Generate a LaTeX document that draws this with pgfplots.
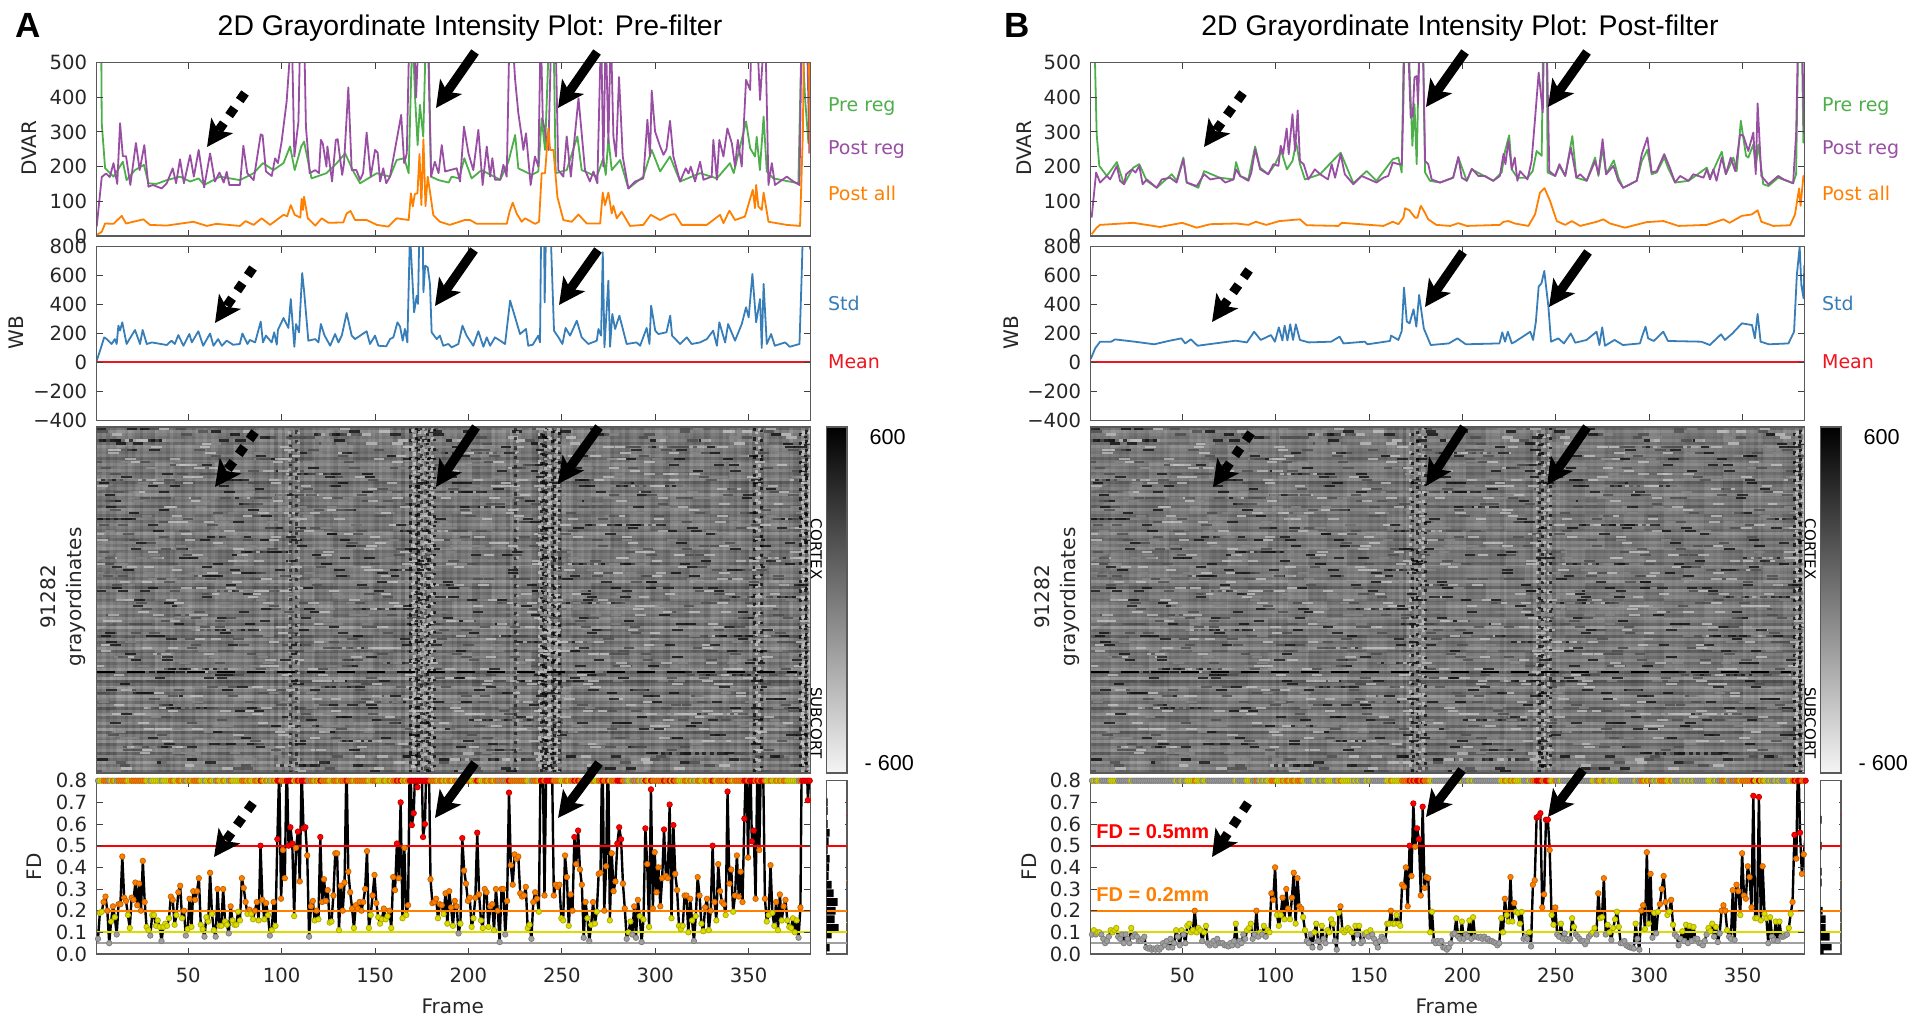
\documentclass[border=0pt]{standalone}
\usepackage{fontspec}
\usepackage{pgfplots}
\usepackage{pgfplotstable}
\pgfplotsset{compat=1.18}
\usetikzlibrary{arrows.meta}
\setmainfont{DejaVu Sans}
\newfontfamily\helv{Liberation Sans}

\definecolor{cgreen}{HTML}{4DAF4A}
\definecolor{cpurple}{HTML}{984EA3}
\definecolor{corange}{HTML}{FF7F00}
\definecolor{cblue}{HTML}{377EB8}
\definecolor{cred}{HTML}{F0141E}
\definecolor{fdred}{HTML}{FF0000}
\definecolor{fdyellow}{HTML}{DCDC00}
\definecolor{fdgray}{HTML}{A0A0A0}
\definecolor{axgray}{HTML}{5A5A5A}

%% ---- DVAR, panel A
\pgfplotstableread[row sep=\\]{f v\\
3 900\\3.7 325\\5.5 195\\10 171\\15 214\\17 161\\21.5 190\\26.3 205\\28.7 152\\33 150\\38.5 161\\45.6 171\\51 157\\55.6 166\\58.5 147\\67 171\\77.7 161\\85 181\\90 210\\95.6 190\\101 210\\104.5 258\\107 190\\110.5 258\\112 272\\116 166\\124 181\\129.5 210\\134 238\\138.4 186\\142 152\\151 181\\158 171\\161.6 219\\165.6 224\\168 181\\170 600\\171.4 402\\172.8 262\\174 378\\175.8 286\\177.3 600\\178.5 600\\180 171\\184 161\\189.4 154\\191 171\\195 166\\197.8 224\\201.7 166\\207 190\\217 162\\221.4 214\\225 291\\226.7 195\\233.9 176\\237.4 186\\239.2 339\\241 248\\243.3 600\\245.5 600\\246.7 181\\252.6 190\\258.3 287\\260.6 190\\268.7 171\\272.2 224\\273.5 176\\274.9 282\\276.7 190\\281.2 219\\285.6 137\\293.6 171\\298.1 248\\302.6 186\\307.9 229\\313.3 157\\324 181\\333 166\\340 210\\342 181\\348.6 330\\350.8 253\\353.4 229\\354.3 286\\356 190\\358 344\\359.7 186\\363.2 166\\376.6 152\\378.4 600\\380.2 397\\382 267\\383 392\\
}\preA
\pgfplotstableread[row sep=\\]{f v\\
1 27\\3.7 170\\6 180\\8 170\\10 210\\12 150\\13.5 325\\15 230\\16.7 230\\19 147\\22 268\\24 190\\26.5 262\\28.7 142\\31 147\\35.8 137\\38.5 152\\41.7 195\\43.5 152\\45.6 221\\47.7 152\\51 233\\53 171\\55.6 248\\58.5 140\\61.7 238\\64.3 157\\66.7 183\\69 154\\70.6 185\\72 147\\77.7 147\\79.5 260\\81.6 181\\85 161\\88.8 293\\89.8 290\\91.6 186\\94.7 173\\96.5 224\\98 210\\100 272\\102.7 389\\105.4 600\\106.8 229\\109 330\\110 600\\112 600\\113 315\\115 181\\118 190\\120 181\\121 277\\122 267\\124 200\\124.5 258\\127 157\\129 277\\130 279\\132.4 176\\133.4 210\\135.7 428\\137.5 190\\140 190\\142 162\\143.6 181\\145.5 298\\147.7 171\\150 248\\151.4 240\\152.7 157\\154.4 195\\156 152\\158 171\\161.6 277\\164 349\\165.6 210\\167 238\\168.4 600\\171 560\\172 400\\173 540\\175 650\\178 650\\180 171\\182 214\\184 181\\185.7 262\\187.5 186\\193.7 195\\195.5 157\\197.6 315\\200 238\\202.6 190\\205.3 306\\207.6 147\\209.8 258\\211.6 171\\212.8 224\\214.2 162\\217 162\\218.7 205\\220.5 171\\222 600\\223.2 600\\225 450\\226.7 354\\228.5 287\\229.4 248\\230.8 296\\233.3 147\\235.6 229\\237.4 200\\238.7 600\\239.8 335\\242.8 248\\244.6 640\\246.4 640\\248.1 190\\250.8 171\\252.6 287\\254.8 171\\258.9 397\\262.4 190\\265 157\\266.9 186\\269 152\\271 600\\272.2 200\\273.5 600\\274.9 267\\276.2 600\\277.6 287\\279 229\\280.6 458\\282.6 229\\285.6 137\\289.2 157\\293.6 166\\295.8 335\\297.2 229\\298.1 419\\299.9 301\\302.6 258\\304.4 234\\306 250\\307.9 332\\309.7 229\\313.3 157\\316.3 195\\317.8 180\\319 200\\321.3 157\\324 214\\325.8 162\\330.2 171\\331.1 277\\333 162\\334.3 277\\336.5 229\\338.6 310\\341 267\\342.7 200\\344.2 277\\346.3 200\\348.6 450\\350.8 421\\351.6 600\\354.3 600\\356.1 392\\358.8 620\\360.6 147\\362.4 210\\364.1 147\\370.4 171\\374 157\\377.2 147\\378.4 620\\381 650\\382.5 238\\
}\postA
\pgfplotstableread[row sep=\\]{f v\\
1 3\\3.7 12\\5.5 36\\10 35\\14.4 58\\16.7 36\\20.6 41\\26 48\\29.5 32\\38.5 30\\52.7 41\\60 29\\65 35\\77.7 29\\80.7 43\\85 32\\89.3 51\\93.8 32\\101 61\\103 57\\104.9 89\\107 61\\110 53\\110.7 107\\111.4 75\\112 113\\114 51\\118 30\\121.5 51\\125 38\\133 39\\134.8 65\\136.9 72\\139.3 46\\145.5 46\\151 32\\157 27\\161.6 51\\168 46\\169.2 123\\170.2 85\\171.3 121\\172.7 123\\173.8 236\\174.8 89\\175.9 279\\177 86\\178.2 171\\179.4 128\\181.2 60\\184.7 41\\190 32\\198 46\\200.9 46\\204.4 35\\220.5 35\\222 70\\223.7 96\\225.8 65\\228.5 41\\230.3 51\\235.7 35\\237.8 41\\239.2 181\\241 181\\242.8 311\\243.7 248\\245.5 248\\247.6 113\\250.8 46\\255.3 41\\258.9 62\\263.3 36\\270.5 36\\271.9 125\\273.1 89\\274.9 125\\276.7 65\\277.6 87\\279.4 51\\282 70\\286.5 29\\293.6 32\\297.6 61\\302.6 46\\308 61\\310.6 63\\314.2 32\\327.6 32\\334.7 61\\336.5 37\\339.7 73\\342.7 46\\348 56\\352.2 133\\353.4 80\\354 147\\355.2 85\\357 75\\358 125\\360.6 41\\370.4 32\\377.5 29\\379 296\\379.7 600\\381 600\\382 600\\383 238\\
}\allA
%% ---- DVAR, panel B
\pgfplotstableread[row sep=\\]{f v\\
3 900\\3.3 500\\4.2 293\\5.6 202\\9.6 173\\15 213\\18.8 149\\23.8 197\\27 207\\31 159\\36.3 139\\44.4 178\\47 159\\50.6 226\\52.4 154\\58.6 139\\61.7 187\\70 168\\77.4 163\\78.8 213\\81 173\\85.4 163\\89 258\\91.7 197\\96 178\\99.7 207\\103 245\\106 192\\109 216\\111 269\\113 207\\115.7 163\\123.8 178\\129.7 212\\134.8 240\\141.6 152\\148.7 187\\154 159\\162.7 221\\165.7 226\\167.5 183\\168.7 600\\171 580\\173.2 260\\174.3 380\\175.5 207\\177 600\\178.7 600\\180 183\\182.6 159\\188 154\\195 168\\197.8 226\\202.3 159\\205 192\\216.5 159\\221 183\\222.8 245\\225 290\\226.4 192\\229.4 168\\234.8 168\\237.6 187\\239.7 245\\242.4 231\\243.3 600\\245 600\\245.6 183\\249.6 173\\251.9 202\\255 173\\258.8 288\\261 168\\266.5 159\\271 226\\272.8 173\\275 255\\276.9 178\\281 218\\283.5 168\\286 139\\293.3 159\\296 216\\299 248\\301.3 178\\304 183\\308 226\\310 197\\313.8 154\\321 159\\330.8 197\\332.5 168\\338.8 243\\341 178\\345 226\\346.8 187\\349 332\\351.8 231\\353 226\\355.7 264\\357 197\\358.4 264\\361 149\\363.8 144\\369 168\\377 152\\378.6 178\\379.8 600\\381.6 600\\382.5 269\\383 389\\
}\preB
\pgfplotstableread[row sep=\\]{f v\\
1.5 53\\3.9 183\\6 154\\9.6 173\\11.4 163\\15 202\\16.7 159\\18.8 149\\20 178\\23 192\\25 183\\27 202\\28.8 149\\31 163\\36.3 139\\39 163\\43.5 168\\47 154\\50.6 221\\52.4 154\\57.8 144\\61.7 178\\65 163\\70.2 168\\73 154\\77.4 163\\78.8 192\\81 173\\85.4 159\\87 183\\89 250\\91.7 192\\96 178\\98.8 207\\101.5 202\\102.7 260\\104 236\\105.9 310\\107 236\\109 351\\110.4 245\\111.8 362\\113 216\\115 207\\117.5 163\\121 192\\123.8 178\\128 163\\130 207\\131.8 168\\134.8 236\\137 178\\141.6 149\\146 173\\154 154\\157.7 168\\160.3 173\\162.7 212\\165.7 207\\167.5 207\\168.4 389\\169 600\\171 540\\172.3 341\\173.4 346\\174.3 457\\175.5 461\\176.2 380\\177.3 600\\178.7 600\\180 216\\181.7 207\\183.5 163\\188 154\\195 168\\197.8 228\\199.6 168\\202.3 159\\205 194\\208.5 173\\212 173\\216.5 159\\220 173\\222 237\\223 207\\224.6 274\\226.4 192\\228 226\\229.4 159\\230.8 187\\234.8 163\\237 216\\238.9 341\\240.8 471\\243 356\\243.7 600\\245 600\\246.5 187\\249.6 173\\251.9 207\\255 173\\258 255\\261 168\\263 178\\266.5 159\\271 216\\272.8 178\\275 279\\276.9 178\\280.8 202\\283.5 159\\286 139\\293.3 159\\296 236\\299 284\\301.3 183\\304 187\\308 236\\311 197\\313.8 154\\316.5 173\\321 159\\323.6 178\\329 168\\330.8 192\\332.5 163\\334.3 192\\336 159\\338.8 226\\341 178\\343.6 226\\346 187\\348.6 293\\350.4 288\\353 245\\355.7 298\\357 178\\358 382\\360 173\\363.8 149\\369 173\\372 163\\377 152\\378.6 293\\379.8 600\\381.6 600\\383 293\\
}\postB
\pgfplotstableread[row sep=\\]{f v\\
1.5 5\\4.2 24\\6 32\\23.8 38\\38 26\\50 38\\57.8 24\\65 34\\79 36\\85.4 32\\89.4 41\\95 32\\102 43\\113 48\\116.6 31\\133.6 29\\135.4 38\\157.7 29\\162.7 41\\165.7 34\\168.4 53\\169.3 80\\171.6 74\\174.6 53\\175.9 53\\177.7 87\\179.4 72\\181.7 48\\186 32\\193.4 29\\197.8 37\\202.3 29\\220 32\\222 41\\224.6 43\\228 36\\235.3 29\\238.9 63\\241.5 125\\243.9 138\\246.9 101\\250.5 43\\255 32\\258.5 43\\263 29\\271.9 41\\275.4 48\\279 36\\287 24\\298.6 40\\307.6 43\\315.6 29\\330.8 32\\339.7 48\\343 38\\349.5 58\\354.8 62\\358 74\\360 41\\366.4 29\\375.4 31\\378 62\\380.2 137\\381 87\\382.5 173\\383 168\\
}\allB
%% ---- WB std
\pgfplotstableread[row sep=\\]{f v\\
1 12\\2.8 81\\5 173\\6.4 161\\9 127\\10.7 161\\11.7 127\\12.6 254\\13.5 220\\14.7 277\\17 127\\21.5 224\\24.2 127\\25.6 224\\27.8 127\\30.5 138\\38.5 120\\41 150\\42.8 127\\44.7 189\\47.4 115\\50.6 196\\51.9 138\\55.4 215\\58 115\\61.7 200\\63.5 115\\66 161\\68 115\\70.6 150\\74 122\\77.6 127\\79 200\\81.7 127\\83 155\\85.8 138\\88.8 282\\90 138\\91.6 185\\94.7 138\\96 208\\97.4 122\\98 224\\101 307\\103.6 238\\104.9 438\\106.8 108\\107.7 265\\109.3 208\\111 618\\112 496\\114.3 150\\118 161\\119.7 138\\121 265\\123 185\\126 115\\128.6 196\\130.4 138\\132.2 185\\134.8 341\\137.5 185\\139.3 161\\145.5 215\\147.3 127\\150 185\\151.8 115\\156 111\\158 161\\159.8 173\\162 277\\163.4 247\\164.8 150\\166 231\\167.3 138\\168.7 900\\170.9 346\\172.3 461\\173 404\\173.7 900\\175.5 900\\175.9 485\\176.8 669\\178.2 657\\179.4 542\\180.3 208\\183 161\\184.7 185\\186.5 115\\189.2 127\\191 104\\194.6 127\\196.8 254\\199 185\\202.6 115\\205.3 215\\208 108\\209.8 173\\211.6 115\\214.2 173\\217 150\\219.6 127\\222.3 427\\225 311\\227.6 196\\230.8 231\\232 115\\234.4 122\\237.4 185\\238.3 138\\238.9 900\\240.5 900\\240.8 415\\241.5 900\\244 900\\245.8 219\\248.2 173\\250.3 127\\252 238\\254.4 185\\258 288\\260.6 173\\264.2 127\\268.7 150\\269.6 231\\271 185\\271.9 762\\272.8 104\\274.9 565\\275.8 108\\277 335\\278.5 231\\280.8 323\\284.7 127\\290 138\\291.9 115\\295.4 238\\296.9 127\\297.8 392\\300 219\\301.7 196\\306 208\\308 323\\309 185\\313.3 127\\316.9 173\\319.5 127\\324 138\\327.6 161\\331 219\\333 115\\334.3 277\\337.4 138\\339 265\\342.7 150\\346.3 265\\348.6 381\\350 311\\352 611\\354 277\\356.1 438\\357 100\\358 542\\359.7 127\\362 196\\364 115\\369.5 138\\372 108\\377.2 127\\378.4 611\\379 900\\382 900\\383 780\\
}\stdA
\pgfplotstableread[row sep=\\]{f v\\
1 23\\3.5 100\\6 143\\12 143\\14 159\\24.5 143\\35 125\\42.6 148\\49.5 166\\51.6 131\\54.6 159\\58.2 115\\78.6 150\\84.6 138\\88.5 212\\92 155\\97.5 189\\99.6 143\\101.7 242\\103.6 152\\104.8 254\\106.3 152\\107.8 263\\109.3 155\\110.8 263\\113 155\\117.7 138\\129.7 143\\134.2 178\\136.3 131\\147.7 143\\149.2 125\\161.2 148\\161.8 185\\165.7 155\\167.5 217\\168.7 517\\170.2 282\\171.7 270\\173.8 367\\175.3 247\\176.8 466\\179.3 235\\183 120\\192.7 131\\197.3 166\\201.8 125\\219.8 131\\221.3 208\\222.8 143\\224.3 212\\226.4 131\\228.2 143\\236.3 212\\237.8 155\\239.3 282\\240.8 524\\242.3 547\\243.8 632\\246 385\\247.4 143\\251.3 166\\254.3 131\\258 200\\260.4 136\\266.4 155\\271.8 212\\273.3 120\\274.8 242\\276.3 115\\281.4 155\\285.9 120\\295 131\\296.4 189\\298 247\\299.4 166\\302.4 148\\307.5 212\\310 148\\327.9 143\\332.4 120\\338.4 194\\340.5 155\\344.5 200\\349.6 270\\355 258\\356.5 166\\358 335\\359.6 143\\364 125\\374.5 131\\377.5 212\\379 605\\380.5 800\\381.4 535\\382.6 443\\383 670\\
}\stdB
%% ---- FD, one value a frame
\pgfplotstableread[row sep=\\,header=false]{
.07\\.19\\.195\\.24\\.265\\.2\\.05\\.15\\.22\\.17\\
.09\\.23\\.23\\.45\\.26\\.245\\.18\\.12\\.26\\.25\\
.33\\.225\\.325\\.2\\.43\\.24\\.125\\.11\\.085\\.18\\
.18\\.13\\.155\\.125\\.06\\.125\\.14\\.13\\.165\\.265\\
.25\\.135\\.18\\.285\\.315\\.165\\.2\\.085\\.115\\.255\\
.125\\.29\\.25\\.29\\.35\\.135\\.115\\.08\\.17\\.15\\
.375\\.185\\.11\\.08\\.3\\.13\\.13\\.3\\.15\\.135\\
.095\\.22\\.155\\.135\\.135\\.195\\.155\\.35\\.305\\.24\\
.185\\.205\\.185\\.16\\.2\\.24\\.155\\.5\\.25\\.16\\
.235\\.18\\.085\\.11\\.24\\.13\\.53\\.85\\.255\\.48\\
.35\\.9\\.5\\.585\\.51\\.175\\.49\\.565\\.335\\.85\\
.58\\.585\\.455\\.08\\.22\\.245\\.155\\.2\\.16\\.54\\
.24\\.345\\.245\\.295\\.145\\.15\\.27\\.465\\.465\\.11\\
.315\\.2\\.33\\.9\\.38\\.285\\.21\\.12\\.225\\.21\\
.24\\.2\\.24\\.3\\.475\\.12\\.18\\.27\\.365\\.235\\
.17\\.14\\.16\\.21\\.16\\.175\\.2\\.12\\.355\\.295\\
.51\\.35\\.7\\.165\\.49\\.18\\.225\\1\\.595\\.65\\
.9\\.77\\1.2\\1\\.54\\.6\\.95\\.95\\.345\\.235\\
.24\\.255\\.165\\.23\\.225\\.185\\.28\\.14\\.29\\.215\\
.13\\.245\\.22\\.095\\.14\\.535\\.385\\.325\\.245\\.26\\
.125\\.165\\.26\\.56\\.275\\.155\\.12\\.3\\.285\\.125\\
.22\\.23\\.11\\.3\\.2\\.055\\.3\\.3\\.09\\.245\\
.745\\.41\\.32\\.46\\.44\\.45\\.28\\.265\\.27\\.31\\
.12\\.135\\.07\\.24\\.285\\.255\\.195\\.95\\.95\\.27\\
.9\\1\\1\\.9\\.27\\.32\\.31\\.32\\.165\\.155\\
.455\\.355\\.13\\.275\\.2\\.54\\.415\\.57\\.39\\.32\\
.075\\.24\\.165\\.06\\.135\\.24\\.14\\.195\\.37\\.375\\
1\\.2\\.405\\1\\.155\\.465\\.29\\.335\\.51\\.585\\
.53\\.325\\.21\\.07\\.1\\.15\\.09\\.22\\.075\\.25\\
.175\\.055\\.16\\.58\\.415\\.125\\.76\\.21\\.47\\.285\\
.4\\.22\\.35\\.575\\.36\\.35\\.69\\.165\\.595\\.37\\
.295\\.13\\.115\\.13\\.27\\.27\\.1\\.255\\.155\\.06\\
.175\\.355\\.27\\.14\\.105\\.215\\.255\\.11\\.2\\.5\\
.24\\.155\\.415\\.29\\.24\\.23\\.18\\.75\\.325\\.39\\
.195\\.27\\.455\\.265\\.38\\.24\\.625\\.9\\.445\\1\\
.52\\.57\\.255\\.9\\.48\\.95\\.9\\.255\\.15\\.18\\
.41\\.19\\.13\\.24\\.11\\.275\\.155\\.22\\.25\\.155\\
.125\\.12\\.165\\.1\\.155\\.075\\.215\\1.2\\1\\1\\.71\\.85\\
}\fdA
\pgfplotstableread[row sep=\\,header=false]{
.09\\.11\\.09\\.1\\.1\\.09\\.07\\.05\\.06\\.08\\
.11\\.1\\.11\\.12\\.08\\.07\\.09\\.05\\.09\\.07\\
.05\\.12\\.08\\.09\\.08\\.06\\.06\\.07\\.08\\.03\\
.025\\.03\\.02\\.025\\.02\\.03\\.02\\.03\\.05\\.04\\
.06\\.03\\.07\\.03\\.05\\.11\\.08\\.04\\.11\\.09\\
.05\\.13\\.14\\.1\\.11\\.2\\.1\\.12\\.11\\.06\\
.1\\.13\\.05\\.04\\.05\\.06\\.04\\.07\\.05\\.05\\
.05\\.04\\.04\\.035\\.05\\.04\\.06\\.14\\.04\\.06\\
.05\\.09\\.07\\.11\\.12\\.14\\.07\\.09\\.2\\.08\\
.1\\.09\\.13\\.08\\.11\\.1\\.28\\.25\\.4\\.18\\
.13\\.18\\.26\\.16\\.3\\.21\\.16\\.26\\.375\\.14\\
.35\\.22\\.21\\.17\\.11\\.06\\.05\\.09\\.03\\.1\\
.14\\.06\\.03\\.13\\.07\\.05\\.11\\.1\\.16\\.14\\
.06\\.02\\.19\\.22\\.11\\.1\\.11\\.12\\.11\\.1\\
.05\\.13\\.09\\.13\\.05\\.06\\.09\\.1\\.08\\.11\\
.09\\.07\\.05\\.03\\.06\\.08\\.07\\.06\\.14\\.14\\
.2\\.14\\.14\\.18\\.14\\.13\\.32\\.31\\.4\\.22\\
.5\\.36\\.695\\.495\\.58\\.53\\.27\\.68\\.305\\.355\\
.35\\.1\\.195\\.06\\.05\\.06\\.05\\.06\\.03\\.03\\
.02\\.03\\.05\\.09\\.095\\.165\\.08\\.07\\.15\\.07\\
.09\\.08\\.155\\.07\\.17\\.08\\.08\\.075\\.08\\.07\\
.08\\.07\\.07\\.06\\.06\\.055\\.05\\.04\\.05\\.165\\
.1\\.255\\.18\\.15\\.355\\.15\\.235\\.195\\.19\\.14\\
.195\\.07\\.08\\.07\\.1\\.035\\.32\\.34\\.63\\.635\\
.65\\.215\\.275\\.62\\.62\\.48\\.18\\.135\\.215\\.09\\
.08\\.14\\.07\\.095\\.07\\.06\\.07\\.165\\.125\\.09\\
.08\\.07\\.06\\.06\\.045\\.06\\.08\\.09\\.1\\.12\\
.09\\.28\\.165\\.17\\.35\\.09\\.135\\.1\\.065\\.12\\
.16\\.195\\.125\\.05\\.05\\.06\\.04\\.035\\.03\\.03\\
.025\\.14\\.07\\.02\\.2\\.225\\.115\\.47\\.14\\.37\\
.075\\.19\\.095\\.195\\.23\\.3\\.36\\.24\\.18\\.195\\
.25\\.135\\.09\\.08\\.04\\.07\\.105\\.06\\.135\\.05\\
.13\\.06\\.125\\.07\\.07\\.05\\.05\\.04\\.06\\.09\\
.12\\.105\\.14\\.08\\.125\\.055\\.095\\.2\\.225\\.2\\
.11\\.08\\.07\\.295\\.065\\.32\\.29\\.18\\.465\\.27\\
.255\\.405\\.355\\.215\\.73\\.165\\.165\\.725\\.155\\.405\\
.185\\.165\\.05\\.17\\.08\\.065\\.15\\.06\\.15\\.08\\
.08\\.085\\.09\\.12\\.185\\.24\\.55\\.44\\.95\\.56\\.37\\.46\\.545\\
}\fdB
%% ---- FD histograms (bar length in px, bin centre)
\pgfplotstableread[row sep=\\]{n v\\
1 .70\\1 .66\\1 .60\\3 .56\\2 .52\\1 .48\\3 .44\\2.5 .40\\2 .36\\5 .32\\7 .28\\11 .24\\9 .20\\8 .16\\12 .12\\5 .09\\3 .03\\
}\histA
\pgfplotstableread[row sep=\\]{n v\\
1 .62\\1 .50\\1 .38\\1 .33\\2 .20\\5 .16\\5 .12\\9 .08\\11 .035\\3 .012\\
}\histB
%% ---- heat map: coarse cells shared by both panels, 36 x 20
\pgfplotstableread[row sep=\\,header=false]{
5\\4\\6\\3\\5\\5\\4\\6\\5\\3\\6\\4\\5\\5\\3\\6\\4\\5\\4\\6\\5\\3\\5\\4\\6\\4\\5\\6\\3\\5\\4\\5\\6\\4\\3\\5\\
4\\6\\5\\5\\3\\6\\4\\5\\6\\4\\5\\3\\6\\4\\5\\5\\6\\3\\5\\4\\6\\5\\3\\6\\4\\5\\6\\4\\5\\3\\6\\4\\5\\5\\6\\4\\
6\\3\\4\\6\\5\\4\\5\\3\\4\\6\\5\\5\\4\\6\\3\\4\\5\\6\\3\\5\\4\\6\\5\\4\\5\\6\\3\\4\\6\\5\\3\\5\\4\\6\\5\\3\\
5\\5\\6\\4\\3\\5\\6\\4\\5\\5\\3\\6\\5\\4\\6\\5\\3\\4\\6\\4\\5\\3\\6\\5\\4\\3\\5\\6\\4\\5\\6\\4\\5\\3\\4\\6\\
3\\6\\4\\5\\6\\3\\5\\6\\4\\3\\6\\4\\5\\3\\5\\4\\6\\5\\4\\6\\3\\5\\4\\6\\3\\5\\6\\4\\5\\3\\5\\6\\3\\5\\6\\4\\
6\\4\\5\\3\\5\\6\\4\\3\\6\\5\\4\\5\\6\\4\\5\\6\\3\\5\\5\\3\\6\\4\\5\\3\\6\\4\\5\\3\\6\\4\\6\\4\\5\\4\\3\\5\\
4\\5\\3\\6\\4\\5\\6\\5\\3\\6\\5\\3\\4\\6\\3\\5\\6\\4\\6\\4\\5\\6\\3\\5\\5\\6\\4\\5\\3\\6\\4\\3\\6\\5\\4\\6\\
5\\3\\6\\4\\5\\4\\3\\6\\5\\4\\3\\6\\5\\3\\6\\4\\5\\5\\3\\6\\4\\3\\5\\6\\4\\3\\5\\6\\4\\5\\3\\6\\4\\5\\6\\3\\
3\\5\\4\\6\\3\\6\\5\\4\\6\\3\\5\\4\\6\\5\\4\\3\\6\\5\\4\\5\\6\\4\\6\\3\\5\\6\\4\\3\\5\\6\\5\\5\\3\\6\\4\\5\\
6\\4\\5\\3\\6\\4\\5\\3\\5\\6\\4\\6\\3\\4\\5\\6\\4\\3\\6\\4\\3\\5\\4\\6\\3\\5\\6\\4\\6\\3\\4\\6\\5\\4\\3\\6\\
4\\6\\3\\5\\5\\3\\6\\5\\4\\4\\6\\3\\5\\6\\3\\5\\4\\6\\5\\3\\6\\5\\4\\5\\6\\3\\4\\5\\3\\6\\5\\3\\4\\6\\5\\4\\
5\\3\\5\\6\\4\\6\\4\\3\\5\\6\\3\\5\\4\\6\\4\\5\\6\\3\\4\\6\\5\\3\\6\\4\\3\\5\\6\\4\\5\\3\\6\\4\\5\\3\\6\\5\\
3\\6\\4\\3\\6\\5\\3\\6\\4\\5\\6\\4\\6\\3\\5\\4\\3\\6\\5\\4\\3\\6\\5\\3\\6\\4\\5\\6\\4\\5\\3\\6\\4\\5\\3\\6\\
6\\4\\5\\6\\3\\4\\5\\5\\6\\3\\4\\6\\3\\5\\6\\3\\5\\4\\6\\3\\5\\4\\3\\6\\5\\6\\3\\4\\6\\3\\5\\5\\6\\3\\4\\5\\
4\\5\\3\\5\\6\\4\\6\\3\\5\\4\\6\\3\\5\\4\\3\\6\\4\\5\\3\\6\\4\\6\\5\\4\\3\\5\\4\\6\\3\\5\\6\\3\\5\\4\\6\\3\\
5\\6\\4\\3\\5\\6\\3\\4\\6\\5\\3\\5\\6\\4\\5\\3\\6\\4\\5\\4\\6\\3\\5\\6\\4\\3\\6\\5\\4\\6\\3\\5\\4\\6\\5\\4\\
3\\4\\6\\5\\3\\5\\4\\6\\3\\6\\5\\4\\3\\6\\4\\5\\3\\6\\4\\5\\3\\6\\4\\5\\3\\6\\4\\3\\5\\6\\4\\6\\3\\5\\4\\6\\
6\\5\\3\\6\\4\\3\\6\\5\\4\\3\\6\\5\\4\\5\\6\\4\\5\\3\\6\\3\\5\\4\\6\\3\\5\\4\\6\\5\\3\\4\\5\\3\\6\\4\\5\\3\\
4\\3\\5\\4\\6\\5\\3\\6\\5\\4\\3\\6\\5\\3\\4\\6\\5\\3\\4\\6\\5\\4\\3\\6\\4\\5\\3\\6\\5\\3\\6\\5\\4\\3\\6\\5\\
5\\6\\3\\5\\4\\6\\4\\3\\6\\5\\4\\6\\3\\5\\6\\3\\4\\6\\5\\3\\6\\5\\4\\3\\6\\5\\3\\4\\6\\5\\3\\4\\6\\5\\3\\6\\
}\heatcells
%% row streaks, bottom to top, 115 values
\pgfplotstableread[row sep=\\,header=false]{
2\\7\\4\\8\\3\\6\\1\\7\\5\\2\\8\\4\\6\\1\\9\\3\\7\\4\\2\\8\\5\\1\\7\\3\\6\\9\\2\\5\\8\\3\\0\\9\\4\\1\\8\\5\\3\\7\\4\\6\\2\\8\\5\\3\\7\\1\\6\\4\\9\\2\\5\\7\\3\\6\\4\\8\\5\\3\\6\\4\\7\\1\\5\\8\\3\\6\\4\\5\\7\\2\\6\\4\\5\\3\\7\\4\\6\\2\\5\\8\\3\\5\\7\\4\\6\\3\\5\\7\\2\\6\\4\\5\\8\\3\\6\\4\\1\\7\\5\\3\\6\\4\\7\\5\\2\\6\\4\\5\\7\\3\\6\\4\\5\\7\\3\\
}\heatrows
%% column streaks, every second frame, 192 values
\pgfplotstableread[row sep=\\,header=false]{
5\\4\\6\\3\\5\\4\\6\\5\\3\\6\\4\\5\\3\\6\\5\\4\\6\\4\\5\\3\\6\\4\\5\\3\\5\\6\\4\\5\\4\\6\\3\\5\\6\\4\\5\\3\\4\\6\\5\\4\\
6\\5\\3\\4\\6\\5\\3\\6\\2\\7\\3\\7\\2\\6\\7\\2\\5\\4\\6\\3\\5\\4\\6\\4\\3\\6\\5\\4\\6\\5\\3\\5\\4\\6\\5\\3\\6\\4\\5\\4\\
3\\6\\2\\7\\1\\8\\0\\9\\1\\8\\4\\5\\6\\3\\5\\4\\6\\3\\5\\4\\6\\4\\3\\6\\5\\4\\6\\3\\5\\6\\2\\7\\3\\6\\4\\5\\6\\3\\1\\8\\
0\\9\\1\\8\\0\\7\\4\\6\\3\\5\\6\\4\\5\\3\\6\\4\\5\\6\\3\\5\\4\\6\\3\\5\\6\\4\\3\\6\\5\\3\\5\\6\\4\\3\\5\\6\\4\\5\\3\\6\\
4\\5\\6\\3\\4\\6\\5\\3\\6\\4\\5\\3\\6\\4\\2\\7\\3\\6\\2\\7\\4\\5\\6\\3\\5\\4\\6\\3\\2\\7\\0\\9\\
}\colsA
\pgfplotstableread[row sep=\\,header=false]{
5\\4\\5\\4\\5\\4\\6\\5\\4\\5\\4\\5\\4\\6\\5\\4\\5\\4\\5\\4\\6\\4\\5\\4\\5\\5\\4\\5\\4\\6\\4\\5\\5\\4\\5\\4\\4\\6\\5\\4\\
5\\5\\4\\4\\5\\5\\4\\5\\4\\6\\3\\6\\4\\6\\5\\4\\5\\4\\6\\4\\5\\4\\5\\4\\4\\5\\5\\4\\6\\5\\4\\5\\4\\5\\5\\4\\5\\4\\5\\4\\
4\\5\\3\\6\\2\\7\\3\\8\\2\\7\\4\\5\\5\\4\\5\\4\\5\\4\\5\\4\\5\\4\\4\\5\\5\\4\\5\\4\\5\\5\\3\\6\\4\\5\\4\\5\\5\\4\\2\\7\\
1\\8\\2\\7\\2\\6\\4\\5\\4\\5\\5\\4\\5\\4\\5\\4\\5\\5\\4\\5\\4\\5\\4\\5\\5\\4\\4\\5\\5\\4\\5\\5\\4\\4\\5\\5\\4\\5\\4\\5\\
4\\5\\5\\4\\4\\5\\5\\4\\5\\4\\5\\4\\5\\4\\3\\6\\4\\5\\3\\6\\4\\5\\5\\4\\5\\4\\5\\4\\3\\6\\1\\8\\
}\colsB
%% ---- noisy bands: frame, row offset, level
\pgfplotstableread[row sep=\\]{f y m\\
104 70 8\\108 55 1\\169 40 0\\171 66 9\\173 52 0\\175 47 1\\177 61 9\\179 43 0\\181 56 9\\225 68 1\\238 45 9\\240 72 0\\242 41 0\\244 65 9\\246 49 0\\248 74 9\\353 71 0\\356 59 9\\378 48 0\\379.5 73 9\\381 55 0\\382.5 67 9\\
}\evA
\pgfplotstableread[row sep=\\]{f y m\\
172 45 9\\176 64 0\\179 41 9\\240 48 9\\243 57 0\\246 66 9\\378 48 0\\379.5 73 9\\381 55 0\\382.5 67 9\\
}\evB

\pgfplotsset{
  base/.style={scale only axis, width=356.8pt, xmin=1, xmax=383,
    axis line style={draw=axgray, line width=.7pt},
    tick align=inside, major tick length=3.2pt,
    tick style={draw=black!75, line width=.45pt},
    axis on top,
    xtick={50,100,150,200,250,300,350}, xticklabels={},
    tick label style={font=\fontsize{9.8}{10}\selectfont, text=black!85, inner sep=0pt},
    yticklabel style={xshift=-4.6pt},
    xticklabel style={yshift=-7pt}},
  fdmap/.style={point meta min=0, point meta max=.8,
    colormap={fd}{[1pt] color(0pt)=(fdgray) color(99pt)=(fdgray) color(100pt)=(fdyellow)
      color(199pt)=(fdyellow) color(200pt)=(corange) color(499pt)=(corange)
      color(500pt)=(fdred) color(800pt)=(fdred)}},
  series/.style={line width=.9pt, line join=round, no marks},
  dot/.style={scatter, only marks, mark=*, mark size=1.35pt},
  cols/.style={scatter, only marks, scatter src=explicit, mark=|, mark size=90pt,
    mark options={line width=1.9pt, draw opacity=.32}},
  rows/.style={scatter, only marks, scatter src=explicit, mark=-, mark size=180pt,
    mark options={line width=1.5pt, draw opacity=.3}},
  streak/.style={scatter, only marks, scatter src=explicit, mark=-, mark size=2.6pt,
    mark options={line width=1.05pt, draw opacity=.8}},
}
\tikzset{
  px/.style={x=.5pt, y=-.5pt},
  solidarrow/.style={line width=4.6pt, -{Stealth[length=13pt, width=13pt, inset=3.2pt]}},
  dasharrow/.style={solidarrow, dash pattern=on 4.6pt off 4.6pt},
  lab/.style={inner sep=0pt, font=\fontsize{9.5}{10}\selectfont},
  ylab/.style={inner sep=0pt, rotate=90, font=\fontsize{10}{10}\selectfont, text=black!85},
}

% one column of the figure: tables pre, post, all, std, fd, hist, cols, bands, then the left edge in px
\newcommand{\panel}[9]{%
  % DVAR
  \begin{axis}[base, at={({#9*.5pt},-31.25pt)}, anchor=north west, height=86.75pt, ymin=0, ymax=500,
      ytick={0,100,200,300,400,500}, yticklabels={0,100,200,300,400,500}]
    \addplot[series, cgreen] table[x=f,y=v] {#1};
    \addplot[series, cpurple] table[x=f,y=v] {#2};
    \addplot[series, corange] table[x=f,y=v] {#3};
  \end{axis}
  % WB
  \begin{axis}[base, at={({#9*.5pt},-123.35pt)}, anchor=north west, height=86.75pt, ymin=-400, ymax=800,
      ytick={-400,-200,0,200,400,600,800}, yticklabels={−400,−200,0,200,400,600,800}]
    \addplot[series, cblue] table[x=f,y=v] {#4};
    \addplot[cred, line width=1.1pt] coordinates {(1,0) (383,0)};
  \end{axis}
  % heat map
  \begin{axis}[base, at={({#9*.5pt},-213.5pt)}, anchor=north west, height=173pt, ymin=0, ymax=115,
      xtick=\empty, ytick=\empty, colormap/blackwhite, point meta min=0, point meta max=9,
      clip marker paths=true]
    \addplot[matrix plot*, mesh/cols=36, point meta=explicit]
      table[x expr={mod(\coordindex,36)*10.6+6}, y index=0, y expr={floor(\coordindex/36)*5.75+2.9},
        meta expr={(\thisrowno{0}-4.5)*.4+4.7}] {\heatcells};
    \addplot[cols] table[x expr={2*\coordindex+1}, y index=0, y expr={57}, meta index=0] {#7};
    \addplot[rows] table[x expr={192}, y index=0, y expr={\coordindex+.5}, meta index=0] {\heatrows};
    % the same cells again as short horizontal streaks, spread over the rows
    \addplot[streak] table[x expr={mod(\coordindex*17,383)+1}, y index=0, y expr={mod(\coordindex*7+floor(\coordindex/36)*11,115)+.5},
        meta expr={(\thisrowno{0}-4.5)*2.6+4.6}] {\heatcells};
    \addplot[streak] table[x expr={mod(\coordindex*19,383)+1}, y index=0, y expr={mod(\coordindex*11+floor(\coordindex/36)*3,115)+.5},
        meta expr={(4.5-\thisrowno{0})*2.6+4.6}] {\heatcells};
    \addplot[streak] table[x expr={mod(\coordindex*13,383)+1}, y index=0, y expr={mod(\coordindex*3+floor(\coordindex/36)*17,115)+.5},
        meta expr={(\thisrowno{0}-4.5)*2.4+4.6}] {\heatcells};
    \addplot[streak] table[x expr={mod(\coordindex*11,383)+1}, y index=0, y expr={mod(\coordindex*13+floor(\coordindex/36)*5,115)+.5},
        meta expr={(4.5-\thisrowno{0})*2.4+4.6}] {\heatcells};
    \addplot[scatter, only marks, scatter src=explicit, mark=|, mark size=130pt,
      mark options={line width=1.5pt, dash pattern=on 1.6pt off 3pt, draw opacity=.7}]
      table[x=f, y=y, meta=m] {#8};
    \addplot[scatter, only marks, scatter src=explicit, mark=|, mark size=130pt,
      mark options={line width=1.5pt, dash pattern=on 1.2pt off 3.6pt, draw opacity=.7}]
      table[x expr={\thisrow{f}+1}, y expr={\thisrow{y}+7}, meta expr={9-\thisrow{m}}] {#8};
  \end{axis}
  % the dashed line between cortex and subcortex lies over the cells
  \begin{axis}[base, hide axis, at={({#9*.5pt},-213.5pt)}, anchor=north west, height=173pt, ymin=0, ymax=115]
    \addplot[black, line width=1pt, dash pattern=on 9pt off 6pt] coordinates {(1,33.5) (376,33.5)};
  \end{axis}
  % FD
  \begin{axis}[base, fdmap, at={({#9*.5pt},-390.35pt)}, anchor=north west, height=86.65pt, ymin=0, ymax=.8,
      ytick={0,.1,.2,.3,.4,.5,.6,.7,.8}, yticklabels={0.0,0.1,0.2,0.3,0.4,0.5,0.6,0.7,0.8},
      xticklabels={50,100,150,200,250,300,350}]
    \addplot[black, line width=1.2pt, line join=round, no marks] table[x expr={\coordindex+1.7}, y index=0] {#5};
    \addplot[dot, scatter src=y] table[x expr={\coordindex+1.7}, y index=0] {#5};
    \addplot[fdgray, line width=1.1pt] coordinates {(1,.05) (383,.05)};
    \addplot[fdyellow, line width=1.1pt] coordinates {(1,.1) (383,.1)};
    \addplot[corange, line width=1.1pt] coordinates {(1,.2) (383,.2)};
    \addplot[fdred, line width=1.1pt] coordinates {(1,.5) (383,.5)};
  \end{axis}
  % the class strip along the top of FD spills over the frame
  \begin{axis}[base, fdmap, hide axis, clip=false, at={({#9*.5pt},-390.35pt)}, anchor=north west,
      height=86.65pt, ymin=0, ymax=.8]
    \addplot[fdgray, line width=.6pt] coordinates {(1,.8) (383,.8)};
    \addplot[dot, scatter src=explicit] table[x expr={\coordindex+1.7}, y index=0, y expr={.8}, meta index=0] {#5};
  \end{axis}
  % histogram of FD
  \begin{axis}[scale only axis, at={({(#9+730)*.5pt},-390.35pt)}, anchor=north west, width=10.2pt, height=86.65pt,
      xmin=0, xmax=20.4, ymin=0, ymax=.8, xtick=\empty, ytick={.05,.1,.2,.3,.4,.5,.6,.7},
      yticklabels={}, ytick pos=right, tick align=inside, major tick length=1.2pt,
      tick style={draw=black!75, line width=.4pt},
      axis line style={draw=axgray, line width=.7pt}]
    \addplot[xbar, bar width=.036, bar shift=0pt, fill=black, draw=none] table[x=n,y=v] {#6};
    \addplot[fdgray, line width=1.1pt] coordinates {(0,.05) (20.4,.05)};
    \addplot[fdyellow, line width=1.1pt] coordinates {(0,.1) (20.4,.1)};
    \addplot[corange, line width=1.1pt] coordinates {(0,.2) (20.4,.2)};
    \addplot[fdred, line width=1.1pt] coordinates {(0,.5) (20.4,.5)};
    \addplot[fdred, line width=.5pt] coordinates {(19,.64) (20.4,.64)};
    \addplot[corange, line width=.5pt] coordinates {(19,.34) (20.4,.34)};
    \addplot[fdyellow, line width=.5pt] coordinates {(19,.145) (20.4,.145)};
  \end{axis}
  \begin{scope}[px]
  % colour scale
  \shade[top color=black, bottom color=white!96!black] (#9+730,427) rectangle (#9+750.3,773);
  \draw[axgray, line width=.7pt] (#9+730,427) rectangle (#9+750.3,773);
  \node[inner sep=0pt, anchor=west, font=\helv\fontsize{10.8}{11}\selectfont] at (#9+772.5,437) {600};
  \node[inner sep=0pt, anchor=west, font=\helv\fontsize{10.8}{11}\selectfont] at (#9+767.5,763) {- 600};
  \node[inner sep=0pt, rotate=-90, font=\fontsize{7.5}{8}\selectfont] at (#9+719.5,549) {CORTEX};
  \node[inner sep=0pt, rotate=-90, font=\fontsize{7.5}{8}\selectfont] at (#9+719.5,723) {SUBCORT};
  % series names
  \node[lab, anchor=west, text=cgreen] at (#9+731,107) {Pre reg};
  \node[lab, anchor=west, text=cpurple] at (#9+731,150) {Post reg};
  \node[lab, anchor=west, text=corange] at (#9+731,193) {Post all};
  \node[lab, anchor=west, text=cblue] at (#9+731,303) {Std};
  \node[lab, anchor=west, text=cred] at (#9+731,362) {Mean};
  % axis names
  \node[ylab] at (#9-67,148) {DVAR};
  \node[ylab] at (#9-80,333) {WB};
  \node[ylab] at (#9-62,867) {FD};
  \node[ylab, font=\fontsize{10}{11}\selectfont] at (#9-48.5,597) {91282};
  \node[ylab, font=\fontsize{10}{11}\selectfont] at (#9-20.5,597) {grayordinates};
  \node[inner sep=0pt, font=\fontsize{10}{11}\selectfont, text=black!85] at (#9+356,1006) {Frame};
  \end{scope}
}

\begin{document}
\begin{tikzpicture}
  \path[use as bounding box, px] (0,0) rectangle (1920,1021);
  \panel{\preA}{\postA}{\allA}{\stdA}{\fdA}{\histA}{\colsA}{\evA}{96.7}
  \panel{\preB}{\postB}{\allB}{\stdB}{\fdB}{\histB}{\colsB}{\evB}{1090.7}
  \begin{scope}[px]
  % titles and panel letters
  \node[inner sep=0pt, font=\helv\fontsize{14.2}{15}\selectfont] at (470,28) {2D Grayordinate Intensity Plot: Pre-filter};
  \node[inner sep=0pt, font=\helv\fontsize{14.2}{15}\selectfont] at (1460,28) {2D Grayordinate Intensity Plot: Post-filter};
  \node[inner sep=0pt, font=\helv\bfseries\fontsize{17.5}{18}\selectfont] at (28,25) {A};
  \node[inner sep=0pt, font=\helv\bfseries\fontsize{17.5}{18}\selectfont] at (1017,25) {B};
  \node[inner sep=0pt, anchor=west, text=fdred, font=\helv\bfseries\fontsize{10}{11}\selectfont] at (1096,832) {FD = 0.5mm};
  \node[inner sep=0pt, anchor=west, text=corange, font=\helv\bfseries\fontsize{10}{11}\selectfont] at (1096,895) {FD = 0.2mm};
  % arrows, panel A
  \draw[solidarrow] (475,52) -- (436,108);
  \draw[solidarrow] (597,52) -- (558,108);
  \draw[dasharrow] (245,93) -- (207,147);
  \draw[solidarrow] (474,250) -- (435,306);
  \draw[solidarrow] (598,250) -- (559,305);
  \draw[dasharrow] (253,268) -- (215,323);
  \draw[solidarrow] (476,427) -- (436,487);
  \draw[solidarrow] (599,427) -- (558,484);
  \draw[dasharrow] (255,432) -- (215,487);
  \draw[solidarrow] (475,763) -- (435,818);
  \draw[solidarrow] (599,763) -- (558,818);
  \draw[dasharrow] (253,803) -- (214,857);
  % arrows, panel B
  \draw[solidarrow] (1465,52) -- (1426,107);
  \draw[solidarrow] (1587,52) -- (1548,107);
  \draw[dasharrow] (1243,93) -- (1204,147);
  \draw[solidarrow] (1463,252) -- (1425,307);
  \draw[solidarrow] (1588,252) -- (1549,307);
  \draw[dasharrow] (1249,270) -- (1212,322);
  \draw[solidarrow] (1464,427) -- (1426,486);
  \draw[solidarrow] (1587,427) -- (1547,485);
  \draw[dasharrow] (1251,433) -- (1213,487);
  \draw[solidarrow] (1462,770) -- (1426,817);
  \draw[solidarrow] (1583,770) -- (1548,817);
  \draw[dasharrow] (1248,803) -- (1212,857);
  \end{scope}
\end{tikzpicture}
\end{document}
